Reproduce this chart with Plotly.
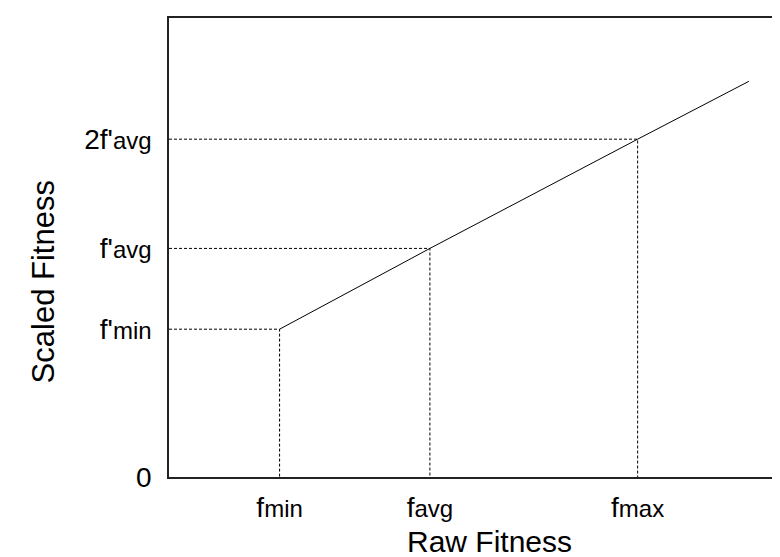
import plotly.graph_objects as go

SUB = 24  # font size of the subscript-like part of tick labels
# Raw fitness positions (x) and scaled fitness levels (y), in arbitrary units
raw_labels = [f"f<span style='font-size:{SUB}px'>min</span>",
              f"f<span style='font-size:{SUB}px'>avg</span>",
              f"f<span style='font-size:{SUB}px'>max</span>"]
raw_vals = [18.1, 42.7, 76.7]
scaled_labels = ["0",
                 f"f'<span style='font-size:{SUB}px'>min</span>",
                 f"f'<span style='font-size:{SUB}px'>avg</span>",
                 f"2f'<span style='font-size:{SUB}px'>avg</span>"]
scaled_vals = [0, 32.2, 49.8, 73.6]

# scaling line: from (fmin, f'min) to its end
line_x = [18.1, 42.7, 76.7, 94.9]
line_y = [32.2, 49.8, 73.6, 86.2]

FONT = "Liberation Sans, Arial, sans-serif"
W, H = 780, 557
L, R, T, B = 161, 6, 10, 88

fig = go.Figure()
fig.add_trace(go.Scatter(x=line_x, y=line_y, mode="lines",
                         line=dict(color="black", width=1), showlegend=False))

# dashed guides for the three marked points
for xv, yv in zip(raw_vals, scaled_vals[1:]):
    fig.add_trace(go.Scatter(x=[0, xv, xv], y=[yv, yv, 0], mode="lines",
                             line=dict(color="black", width=1, dash="3px,2px"),
                             showlegend=False))

pw, ph = W - L - R, H - T - B


def px_to_paper(px, py):
    return (px - L) / pw, (H - B - py) / ph


rx, ry = px_to_paper(483, 533)
sx, sy = px_to_paper(35, 274)

fig.update_layout(
    width=W, height=H,
    margin=dict(l=L, r=R, t=T, b=B),
    paper_bgcolor="white", plot_bgcolor="white",
    font=dict(family=FONT, color="black", size=28),
    xaxis=dict(range=[0, 100], tickvals=raw_vals, ticktext=raw_labels,
               showgrid=False, zeroline=False, showline=True, mirror=True,
               linecolor="#222", linewidth=1.5, ticks="", ticklabelstandoff=5,
               fixedrange=True),
    yaxis=dict(range=[0, 100], tickvals=scaled_vals, ticktext=scaled_labels,
               showgrid=False, zeroline=False, showline=True, mirror=True,
               linecolor="#222", linewidth=1.5, ticks="", ticklabelstandoff=10,
               fixedrange=True),
    annotations=[
        dict(text="Raw Fitness", x=rx, y=ry, xref="paper", yref="paper",
             xanchor="center", yanchor="middle",
             showarrow=False, font=dict(size=30)),
        dict(text="Scaled Fitness", x=sx, y=sy, xref="paper", yref="paper",
             xanchor="center", yanchor="middle",
             showarrow=False, textangle=-90, font=dict(size=31)),
    ],
)

fig.write_html("out.html")
